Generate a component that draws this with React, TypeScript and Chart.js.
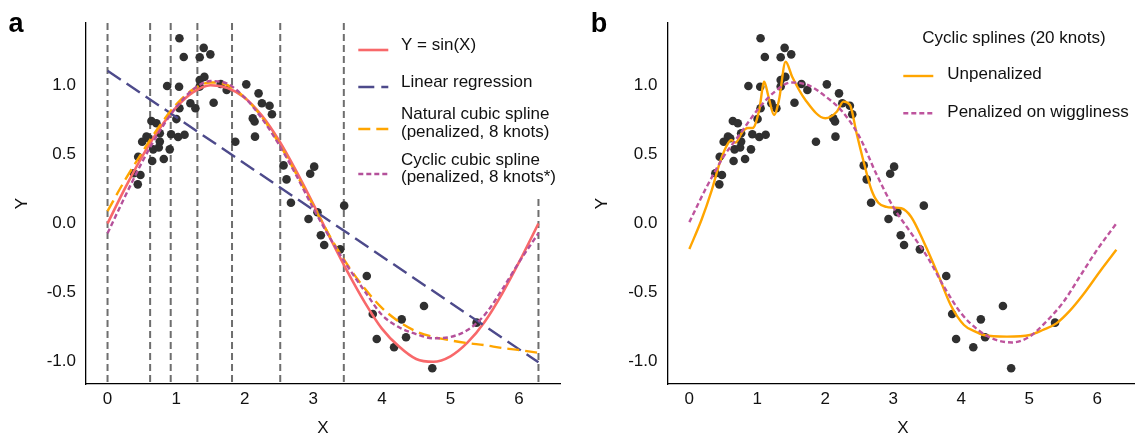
import React, { useEffect, useRef } from "react";
import { Chart, registerables } from "chart.js";

Chart.register(...registerables);

// ---------- data ----------
const pointX = [0.383, 0.48, 0.441, 0.447, 0.505, 0.568, 0.601, 0.651, 0.665, 0.747, 0.64, 0.713, 0.762, 0.762, 0.82, 0.907, 0.869, 0.927, 1.004, 1.029, 1.048, 1.043, 1.123, 1.048, 1.111, 1.208, 1.281, 1.344, 1.344, 1.412, 1.344, 1.402, 1.499, 1.547, 1.65, 1.737, 1.863, 2.023, 2.118, 2.144, 2.15, 2.202, 2.251, 2.362, 2.397, 2.566, 2.61, 2.674, 2.955, 3.013, 3.061, 2.93, 3.45, 3.11, 3.159, 3.392, 3.78, 3.867, 3.925, 4.289, 4.352, 4.178, 4.614, 4.735, 5.381];
const pointY = [0.363, 0.351, 0.283, 0.483, 0.591, 0.628, 0.616, 0.452, 0.536, 0.55, 0.741, 0.725, 0.652, 0.592, 0.466, 0.536, 0.994, 0.645, 0.755, 0.625, 0.833, 0.989, 0.642, 1.339, 1.204, 0.869, 0.833, 1.038, 0.99, 1.06, 1.202, 1.27, 1.223, 0.873, 1.009, 0.965, 0.591, 1.006, 0.76, 0.738, 0.628, 0.941, 0.869, 0.851, 0.79, 0.42, 0.319, 0.15, 0.36, 0.411, 0.081, 0.033, 0.129, -0.085, -0.155, -0.187, -0.38, -0.654, -0.835, -0.693, -0.823, -0.895, -0.597, -1.047, -0.717];

const knotsA = [0, 0.621, 0.921, 1.31, 1.815, 2.518, 3.445, 6.283];

const curveX = [0, 0.25, 0.5, 0.75, 1.0, 1.25, 1.5, 1.75, 2.0, 2.25, 2.5, 2.75, 3.0, 3.25, 3.5, 3.75, 4.0, 4.25, 4.5, 4.75, 5.0, 5.25, 5.5, 5.75, 6.0, 6.283];
const sinY = [0.0, 0.25, 0.48, 0.68, 0.84, 0.95, 1.0, 0.98, 0.91, 0.78, 0.6, 0.38, 0.14, -0.11, -0.35, -0.57, -0.76, -0.89, -0.98, -1.0, -0.96, -0.86, -0.71, -0.51, -0.28, 0.0];
const naturalY = [0.09, 0.31, 0.51, 0.7, 0.86, 0.97, 1.02, 1.0, 0.91, 0.77, 0.58, 0.36, 0.13, -0.1, -0.3, -0.47, -0.61, -0.71, -0.78, -0.82, -0.845, -0.865, -0.88, -0.9, -0.915, -0.935];
const cyclicAY = [-0.07, 0.19, 0.44, 0.66, 0.84, 0.97, 1.03, 1.01, 0.91, 0.76, 0.57, 0.35, 0.11, -0.11, -0.31, -0.49, -0.66, -0.75, -0.8, -0.83, -0.82, -0.77, -0.66, -0.48, -0.28, -0.07];
const linearX = [0, 6.283];
const linearY = [1.105, -1.004];

const penalizedBY = [0.01, 0.26, 0.48, 0.65, 0.82, 0.95, 1.02, 1.0, 0.92, 0.81, 0.63, 0.36, 0.12, -0.06, -0.24, -0.46, -0.65, -0.77, -0.84, -0.86, -0.82, -0.71, -0.57, -0.38, -0.19, 0.0];
const unpenX = [0, 0.178, 0.323, 0.445, 0.542, 0.615, 0.678, 0.784, 0.86, 0.93, 1.028, 1.101, 1.163, 1.246, 1.319, 1.417, 1.513, 1.708, 2.0, 2.169, 2.267, 2.364, 2.461, 2.558, 2.68, 2.78, 2.9, 3.0, 3.117, 3.262, 3.458, 3.652, 3.845, 4.041, 4.2, 4.332, 4.672, 5.012, 5.2, 5.401, 5.6, 5.79, 6.057, 6.283];
const unpenY = [-0.185, 0.025, 0.23, 0.435, 0.555, 0.604, 0.585, 0.664, 0.69, 0.69, 0.82, 1.025, 0.92, 0.785, 0.893, 1.17, 1.061, 0.893, 0.761, 0.808, 0.881, 0.857, 0.652, 0.459, 0.242, 0.15, 0.12, 0.115, 0.11, 0.049, -0.143, -0.36, -0.589, -0.734, -0.78, -0.806, -0.818, -0.806, -0.77, -0.722, -0.63, -0.517, -0.336, -0.19];

const xTicks = [0, 1, 2, 3, 4, 5, 6];
const yTicks = [-1.0, -0.5, 0.0, 0.5, 1.0];

const legendLabelsA = [
  ["Y = sin(X)"],
  ["Linear regression"],
  ["Natural cubic spline", "(penalized, 8 knots)"],
  ["Cyclic cubic spline", "(penalized, 8 knots*)"],
];
const legendTitleB = "Cyclic splines (20 knots)";
const legendLabelsB = ["Unpenalized", "Penalized on wiggliness"];

// ---------- styling ----------
const FONT = "'Liberation Sans', Arial, Helvetica, sans-serif";
const TEXT = "#111111";
const FS = 17;

const zip = (xs: number[], ys: number[]) => xs.map((x, i) => ({ x, y: ys[i] }));

function makeScales(yWidth: number, yPad: number) {
  return {
    x: {
      type: "linear",
      min: -0.314,
      max: 6.597,
      afterBuildTicks: (s: any) => {
        s.ticks = xTicks.map((v) => ({ value: v }));
      },
      afterFit: (s: any) => {
        s.height = 50;
      },
      grid: { display: false, drawTicks: false },
      border: { display: true, color: "#000", width: 1.3 },
      ticks: {
        padding: 5,
        color: TEXT,
        font: { size: FS, family: FONT },
        maxRotation: 0,
        autoSkip: false,
        callback: (v: any) => String(v),
      },
      title: {
        display: true,
        text: "X",
        color: TEXT,
        font: { size: FS, family: FONT },
        padding: { top: 0, bottom: -4.2 },
      },
    },
    y: {
      type: "linear",
      min: -1.1605,
      max: 1.4497,
      afterBuildTicks: (s: any) => {
        s.ticks = yTicks.map((v) => ({ value: v }));
      },
      afterFit: (s: any) => {
        s.width = yWidth;
      },
      grid: { display: false, drawTicks: false },
      border: { display: true, color: "#000", width: 1.3 },
      ticks: {
        padding: yPad,
        color: TEXT,
        font: { size: FS, family: FONT },
        autoSkip: false,
        callback: (v: any) => Number(v).toFixed(1),
      },
      title: {
        display: true,
        text: "Y",
        color: TEXT,
        font: { size: FS, family: FONT },
        padding: { top: 12.3, bottom: 0 },
      },
    },
  };
}

const pointsDataset = (order: number) => ({
  label: "data",
  data: zip(pointX, pointY),
  pointRadius: 4.3,
  pointBackgroundColor: "#303030",
  pointBorderWidth: 0,
  showLine: false,
  order,
});

const lineDataset = (label: string, xs: number[], ys: number[], color: string, dash: number[], width: number, order: number) => ({
  label,
  data: zip(xs, ys),
  showLine: true,
  pointRadius: 0,
  borderColor: color,
  borderWidth: width,
  borderDash: dash,
  borderCapStyle: "butt",
  cubicInterpolationMode: "monotone",
  fill: false,
  order,
});

function drawSample(ctx: CanvasRenderingContext2D, ds: any, x0: number, x1: number, y: number) {
  ctx.save();
  ctx.strokeStyle = ds.borderColor;
  ctx.lineWidth = ds.borderWidth;
  ctx.setLineDash(ds.borderDash || []);
  ctx.lineCap = "butt";
  ctx.beginPath();
  ctx.moveTo(x0, y);
  ctx.lineTo(x1, y);
  ctx.stroke();
  ctx.restore();
}

const knotPlugin = {
  id: "knots",
  beforeDatasetsDraw(chart: any) {
    const { ctx, chartArea, scales } = chart;
    ctx.save();
    ctx.strokeStyle = "#6E6E6E";
    ctx.lineWidth = 2;
    ctx.setLineDash([7, 4]);
    knotsA.forEach((k) => {
      const px = scales.x.getPixelForValue(k);
      ctx.beginPath();
      ctx.moveTo(px, chartArea.top);
      ctx.lineTo(px, chartArea.bottom);
      ctx.stroke();
    });
    ctx.restore();
  },
};

const legendAPlugin = {
  id: "legendA",
  afterDatasetsDraw(chart: any) {
    const { ctx, chartArea } = chart;
    ctx.save();
    ctx.fillStyle = "#ffffff";
    ctx.fillRect(350, chartArea.top, chartArea.right - 350, 195 - chartArea.top);
    const keyY = [50, 87, 129, 174];
    const textY = [[45], [82.5], [114.5, 132.5], [160, 177]];
    ctx.font = `${FS}px ${FONT}`;
    ctx.fillStyle = TEXT;
    ctx.textAlign = "left";
    ctx.textBaseline = "middle";
    legendLabelsA.forEach((lines, i) => {
      drawSample(ctx, chart.data.datasets[i + 1], 358.3, 388.3, keyY[i]);
      lines.forEach((t, j) => ctx.fillText(t, 401, textY[i][j]));
    });
    ctx.restore();
  },
};

const legendBPlugin = {
  id: "legendB",
  afterDatasetsDraw(chart: any) {
    const { ctx } = chart;
    ctx.save();
    ctx.font = `${FS}px ${FONT}`;
    ctx.fillStyle = TEXT;
    ctx.textAlign = "left";
    ctx.textBaseline = "middle";
    ctx.fillText(legendTitleB, 342.3, 38.7);
    const keyY = [76, 113.3];
    const textY = [74.7, 112.5];
    legendLabelsB.forEach((t, i) => {
      drawSample(ctx, chart.data.datasets[i + 1], 323.3, 353.3, keyY[i]);
      ctx.fillText(t, 367.3, textY[i]);
    });
    ctx.restore();
  },
};

export default function App() {
  const refA = useRef<HTMLCanvasElement>(null);
  const refB = useRef<HTMLCanvasElement>(null);

  useEffect(() => {
    const common = {
      animation: false,
      responsive: false,
      events: [],
      plugins: { legend: { display: false }, tooltip: { enabled: false } },
    };

    const chartA = new Chart(refA.current as HTMLCanvasElement, {
      type: "scatter",
      data: {
        datasets: [
          pointsDataset(10),
          lineDataset("Y = sin(X)", curveX, sinY, "#F8686A", [], 2.6, 5),
          lineDataset("Linear regression", linearX, linearY, "#4D4A8B", [16, 7], 2.4, 4),
          lineDataset("Natural cubic spline", curveX, naturalY, "#FFA500", [12, 6], 2.4, 3),
          lineDataset("Cyclic cubic spline", curveX, cyclicAY, "#B4509A", [5, 3], 2.4, 2),
        ],
      } as any,
      options: {
        ...common,
        layout: { padding: { left: 0, top: 23, right: 15, bottom: 0 } },
        scales: makeScales(86, 10) as any,
      } as any,
      plugins: [knotPlugin, legendAPlugin],
    });

    const chartB = new Chart(refB.current as HTMLCanvasElement, {
      type: "scatter",
      data: {
        datasets: [
          pointsDataset(10),
          lineDataset("Unpenalized", unpenX, unpenY, "#FFA500", [], 2.4, 3),
          lineDataset("Penalized on wiggliness", curveX, penalizedBY, "#BE549D", [5, 3], 2.4, 2),
        ],
      } as any,
      options: {
        ...common,
        layout: { padding: { left: 0, top: 23, right: 0, bottom: 0 } },
        scales: makeScales(88, 10.5) as any,
      } as any,
      plugins: [legendBPlugin],
    });

    return () => {
      chartA.destroy();
      chartB.destroy();
    };
  }, []);

  const labelStyle: React.CSSProperties = {
    position: "absolute",
    top: 10.4,
    fontFamily: FONT,
    fontWeight: "bold",
    fontSize: 27,
    lineHeight: 1,
    color: "#000",
  };

  return (
    <div style={{ position: "fixed", left: 0, top: 0, width: 1135, height: 434, overflow: "hidden", background: "#fff" }}>
      <canvas ref={refA} width={575} height={434} style={{ position: "absolute", left: 0, top: 0 }} />
      <canvas ref={refB} width={562} height={434} style={{ position: "absolute", left: 580, top: 0 }} />
      <div style={{ ...labelStyle, left: 8.5 }}>a</div>
      <div style={{ ...labelStyle, left: 590.8 }}>b</div>
    </div>
  );
}
